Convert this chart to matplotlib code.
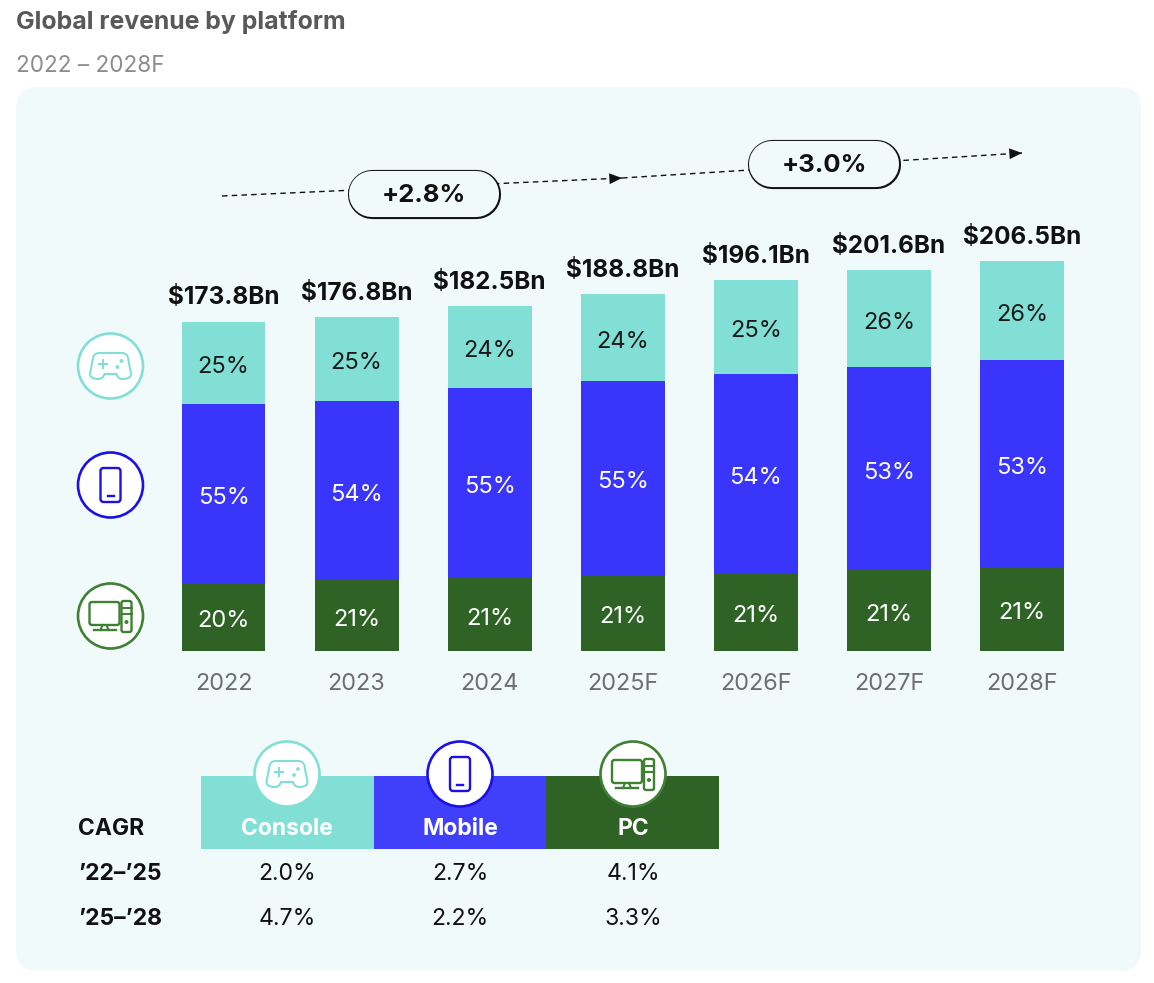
import matplotlib
matplotlib.use("Agg")
import matplotlib.pyplot as plt
from matplotlib.patches import Circle, FancyBboxPatch, Rectangle
from matplotlib.path import Path
from matplotlib.patches import PathPatch

plt.rcParams["font.family"] = ["Inter", "DejaVu Sans"]

years = ["2022", "2023", "2024", "2025F", "2026F", "2027F", "2028F"]
pc = [36.0, 37.6, 38.6, 40.2, 41.3, 42.6, 44.4]
mobile = [94.7, 94.7, 100.5, 102.6, 105.3, 107.4, 109.5]
console = [43.6, 44.5, 43.4, 46.0, 49.5, 51.6, 52.6]
totals = ["$173.8Bn", "$176.8Bn", "$182.5Bn", "$188.8Bn", "$196.1Bn", "$201.6Bn", "$206.5Bn"]
pc_share = [20, 21, 21, 21, 21, 21, 21]
mobile_share = [55, 54, 55, 55, 54, 53, 53]
console_share = [25, 25, 24, 24, 25, 26, 26]
platforms = ["Console", "Mobile", "PC"]
cagr_rows = ["’22–’25", "’25–’28"]
cagr_22_25 = ["2.0%", "2.7%", "4.1%"]
cagr_25_28 = ["4.7%", "2.2%", "3.3%"]

TEAL = "#82DFD5"
BLUE = "#3A35FB"
GREEN = "#2F6326"
BLUE_LINE = "#1C10E8"
GREEN_LINE = "#3F8034"
CARD = "#F1FAFA"

fig = plt.figure(figsize=(11.54, 9.83), dpi=100)

# overlay in pixel coordinates for the card, icons and table
bg = fig.add_axes([0, 0, 1, 1], zorder=0)
bg.set_xlim(0, 1154)
bg.set_ylim(983, 0)
bg.axis("off")
bg.add_patch(FancyBboxPatch((38, 109), 1081, 840, boxstyle="round,pad=22,rounding_size=22",
                            fc=CARD, ec=CARD, lw=0))

bg.text(16, 22, "Global revenue by platform", fontsize=17.9, fontweight="bold", color="#595959",
        va="center", ha="left")
bg.text(16, 66, "2022 – 2028F", fontsize=16.2, color="#8C8C8C", va="center", ha="left")

# stacked bars
ax = fig.add_axes([157 / 1154, (983 - 651) / 983, 931.5 / 1154, 396.9 / 983], zorder=1)
ax.patch.set_alpha(0)
xs = list(range(len(years)))
bottom2 = [a + b for a, b in zip(pc, mobile)]
tops = [a + b for a, b in zip(bottom2, console)]
ax.bar(xs, pc, width=0.63, color=GREEN)
ax.bar(xs, mobile, width=0.63, bottom=pc, color=BLUE)
ax.bar(xs, console, width=0.63, bottom=bottom2, color=TEAL)
ax.set_xlim(-0.5, 6.5)
ax.set_ylim(0, 210)
ax.set_yticks([])
ax.set_xticks(xs, years)
ax.tick_params(axis="x", length=0, pad=16, labelsize=16.9, labelcolor="#6E6E6E")
for s in ax.spines.values():
    s.set_visible(False)
# labels sit a little under the segment middle, same as the source
off = -3
for i in xs:
    ax.annotate(f"{pc_share[i]}%", (i, pc[i] / 2), xytext=(0, off), textcoords="offset points",
                color="white", fontsize=17, ha="center", va="center")
    ax.annotate(f"{mobile_share[i]}%", (i, pc[i] + mobile[i] / 2), xytext=(0, off), textcoords="offset points",
                color="white", fontsize=17, ha="center", va="center")
    ax.annotate(f"{console_share[i]}%", (i, bottom2[i] + console[i] / 2), xytext=(0, off),
                textcoords="offset points", color="#1A1A1A", fontsize=17, ha="center", va="center")
    ax.annotate(totals[i], (i, tops[i]), xytext=(0, 17), textcoords="offset points", ha="center",
                va="center", fontsize=17.5, fontweight="bold", color="#111111", annotation_clip=False)

# overlay on top of the bars
fg = fig.add_axes([0, 0, 1, 1], zorder=2)
fg.set_xlim(0, 1154)
fg.set_ylim(983, 0)
fg.axis("off")
fg.patch.set_alpha(0)


def draw_pad(cx, cy, color):
    verts = [(-11, -13), (11, -13), (15, -13), (17, -11), (17.5, -8), (19, 0), (20, 5), (20.5, 8),
             (20.5, 12), (16, 13), (12, 13), (9, 13), (7, 11), (6, 8), (-6, 8), (-7, 11), (-9, 13),
             (-12, 13), (-16, 13), (-20.5, 12), (-20.5, 8), (-20, 5), (-19, 0), (-17.5, -8), (-17, -11),
             (-15, -13), (-11, -13)]
    codes = [Path.MOVETO, Path.LINETO, Path.CURVE4, Path.CURVE4, Path.CURVE4, Path.LINETO, Path.LINETO,
             Path.LINETO, Path.CURVE4, Path.CURVE4, Path.CURVE4, Path.CURVE4, Path.CURVE4, Path.CURVE4,
             Path.LINETO, Path.CURVE4, Path.CURVE4, Path.CURVE4, Path.CURVE4, Path.CURVE4, Path.CURVE4,
             Path.LINETO, Path.LINETO, Path.LINETO, Path.CURVE4, Path.CURVE4, Path.CURVE4]
    p = Path([(cx + a, cy + b) for a, b in verts], codes)
    fg.add_patch(PathPatch(p, fc="none", ec=color, lw=1.5, zorder=6))
    fg.plot([cx - 12, cx - 4], [cy - 2, cy - 2], color=color, lw=1.5, zorder=6)
    fg.plot([cx - 8, cx - 8], [cy - 6, cy + 2], color=color, lw=1.5, zorder=6)
    fg.add_patch(Circle((cx + 11, cy - 5), 1.2, color=color, zorder=6))
    fg.add_patch(Circle((cx + 7, cy + 1), 1.2, color=color, zorder=6))


def draw_phone(cx, cy, color):
    fg.add_patch(FancyBboxPatch((cx - 8, cy - 15), 16, 30, boxstyle="round,pad=2,rounding_size=3",
                                fc="none", ec=color, lw=1.7, zorder=6))
    fg.plot([cx - 3, cx + 3], [cy + 11, cy + 11], color=color, lw=1.7, zorder=6)


def draw_pc(cx, cy, color):
    fg.add_patch(FancyBboxPatch((cx - 19, cy - 12), 26, 19, boxstyle="round,pad=2,rounding_size=2.5",
                                fc="none", ec=color, lw=1.7, zorder=6))
    fg.plot([cx - 10, cx - 8], [cy + 14, cy + 9], color=color, lw=1.5, zorder=6)
    fg.plot([cx - 2, cx - 4], [cy + 14, cy + 9], color=color, lw=1.5, zorder=6)
    fg.plot([cx - 17, cx + 5], [cy + 14, cy + 14], color=color, lw=1.7, zorder=6)
    fg.add_patch(FancyBboxPatch((cx + 13, cy - 13), 6, 27, boxstyle="round,pad=2,rounding_size=2",
                                fc="none", ec=color, lw=1.7, zorder=6))
    fg.plot([cx + 11, cx + 21], [cy - 8, cy - 8], color=color, lw=1.5, zorder=6)
    fg.plot([cx + 11, cx + 21], [cy - 2, cy - 2], color=color, lw=1.5, zorder=6)
    fg.add_patch(Circle((cx + 16, cy + 6), 1.3, color=color, zorder=6))


def draw_icon(cx, cy, kind):
    line = {"Console": TEAL, "Mobile": BLUE_LINE, "PC": GREEN_LINE}[kind]
    fg.add_patch(Circle((cx, cy), 32.5, fc="white", ec=line, lw=1.9, zorder=5))
    {"Console": draw_pad, "Mobile": draw_phone, "PC": draw_pc}[kind](cx, cy, line)


for name, cy in zip(platforms, [366, 485, 616]):
    draw_icon(110.5, cy, name)

# trend arrows and pills
for (x0, y0), (x1, y1) in [((222, 196), (622, 178)), ((622, 178), (1022, 153))]:
    fg.plot([x0, x1], [y0, y1], color="#111111", lw=1, ls=(0, (4, 3)), zorder=3)
    fg.annotate("", xy=(x1, y1), xytext=(x1 - 12, y1 + 0.7),
                arrowprops=dict(arrowstyle="-|>,head_width=0.3,head_length=0.7", mutation_scale=13,
                                color="#111111", lw=0, shrinkA=0, shrinkB=0), zorder=4)
# thick round-capped lines give the capsule shape, sizes in points
for label, left, top in [("+2.8%", 348, 170), ("+3.0%", 748, 140)]:
    fg.plot([left + 24, left + 128], [top + 24, top + 24], color="#111111", lw=35.4,
            solid_capstyle="round", zorder=4)
    fg.plot([left + 24, left + 128], [top + 24, top + 24], color=CARD, lw=33.2,
            solid_capstyle="round", zorder=4)
    fg.text(left + 76, top + 26, label, fontsize=18.4, fontweight="bold", color="#111111", ha="center",
            va="center", zorder=5)

# CAGR table
edges = [201, 374, 546, 719]
fills = [TEAL, "#4040FA", GREEN]
centers = [287, 460, 633]
for i, name in enumerate(platforms):
    fg.add_patch(Rectangle((edges[i], 776), edges[i + 1] - edges[i], 73, fc=fills[i], ec="none", zorder=3))
    fg.text(centers[i], 829, name, fontsize=16.5, fontweight="bold", color="white", ha="center", va="center",
            zorder=4)
    draw_icon(centers[i], 774, name)
    fg.text(centers[i], 874, cagr_22_25[i], fontsize=16.6, color="#111111", ha="center", va="center")
    fg.text(centers[i], 919, cagr_25_28[i], fontsize=16.6, color="#111111", ha="center", va="center")
fg.text(78, 829, "CAGR", fontsize=16.5, fontweight="bold", color="#111111", ha="left", va="center")
fg.text(78, 874, cagr_rows[0], fontsize=16.5, fontweight="bold", color="#111111", ha="left", va="center")
fg.text(78, 919, cagr_rows[1], fontsize=16.5, fontweight="bold", color="#111111", ha="left", va="center")

fig.savefig("out.png", dpi=100, facecolor="white")
